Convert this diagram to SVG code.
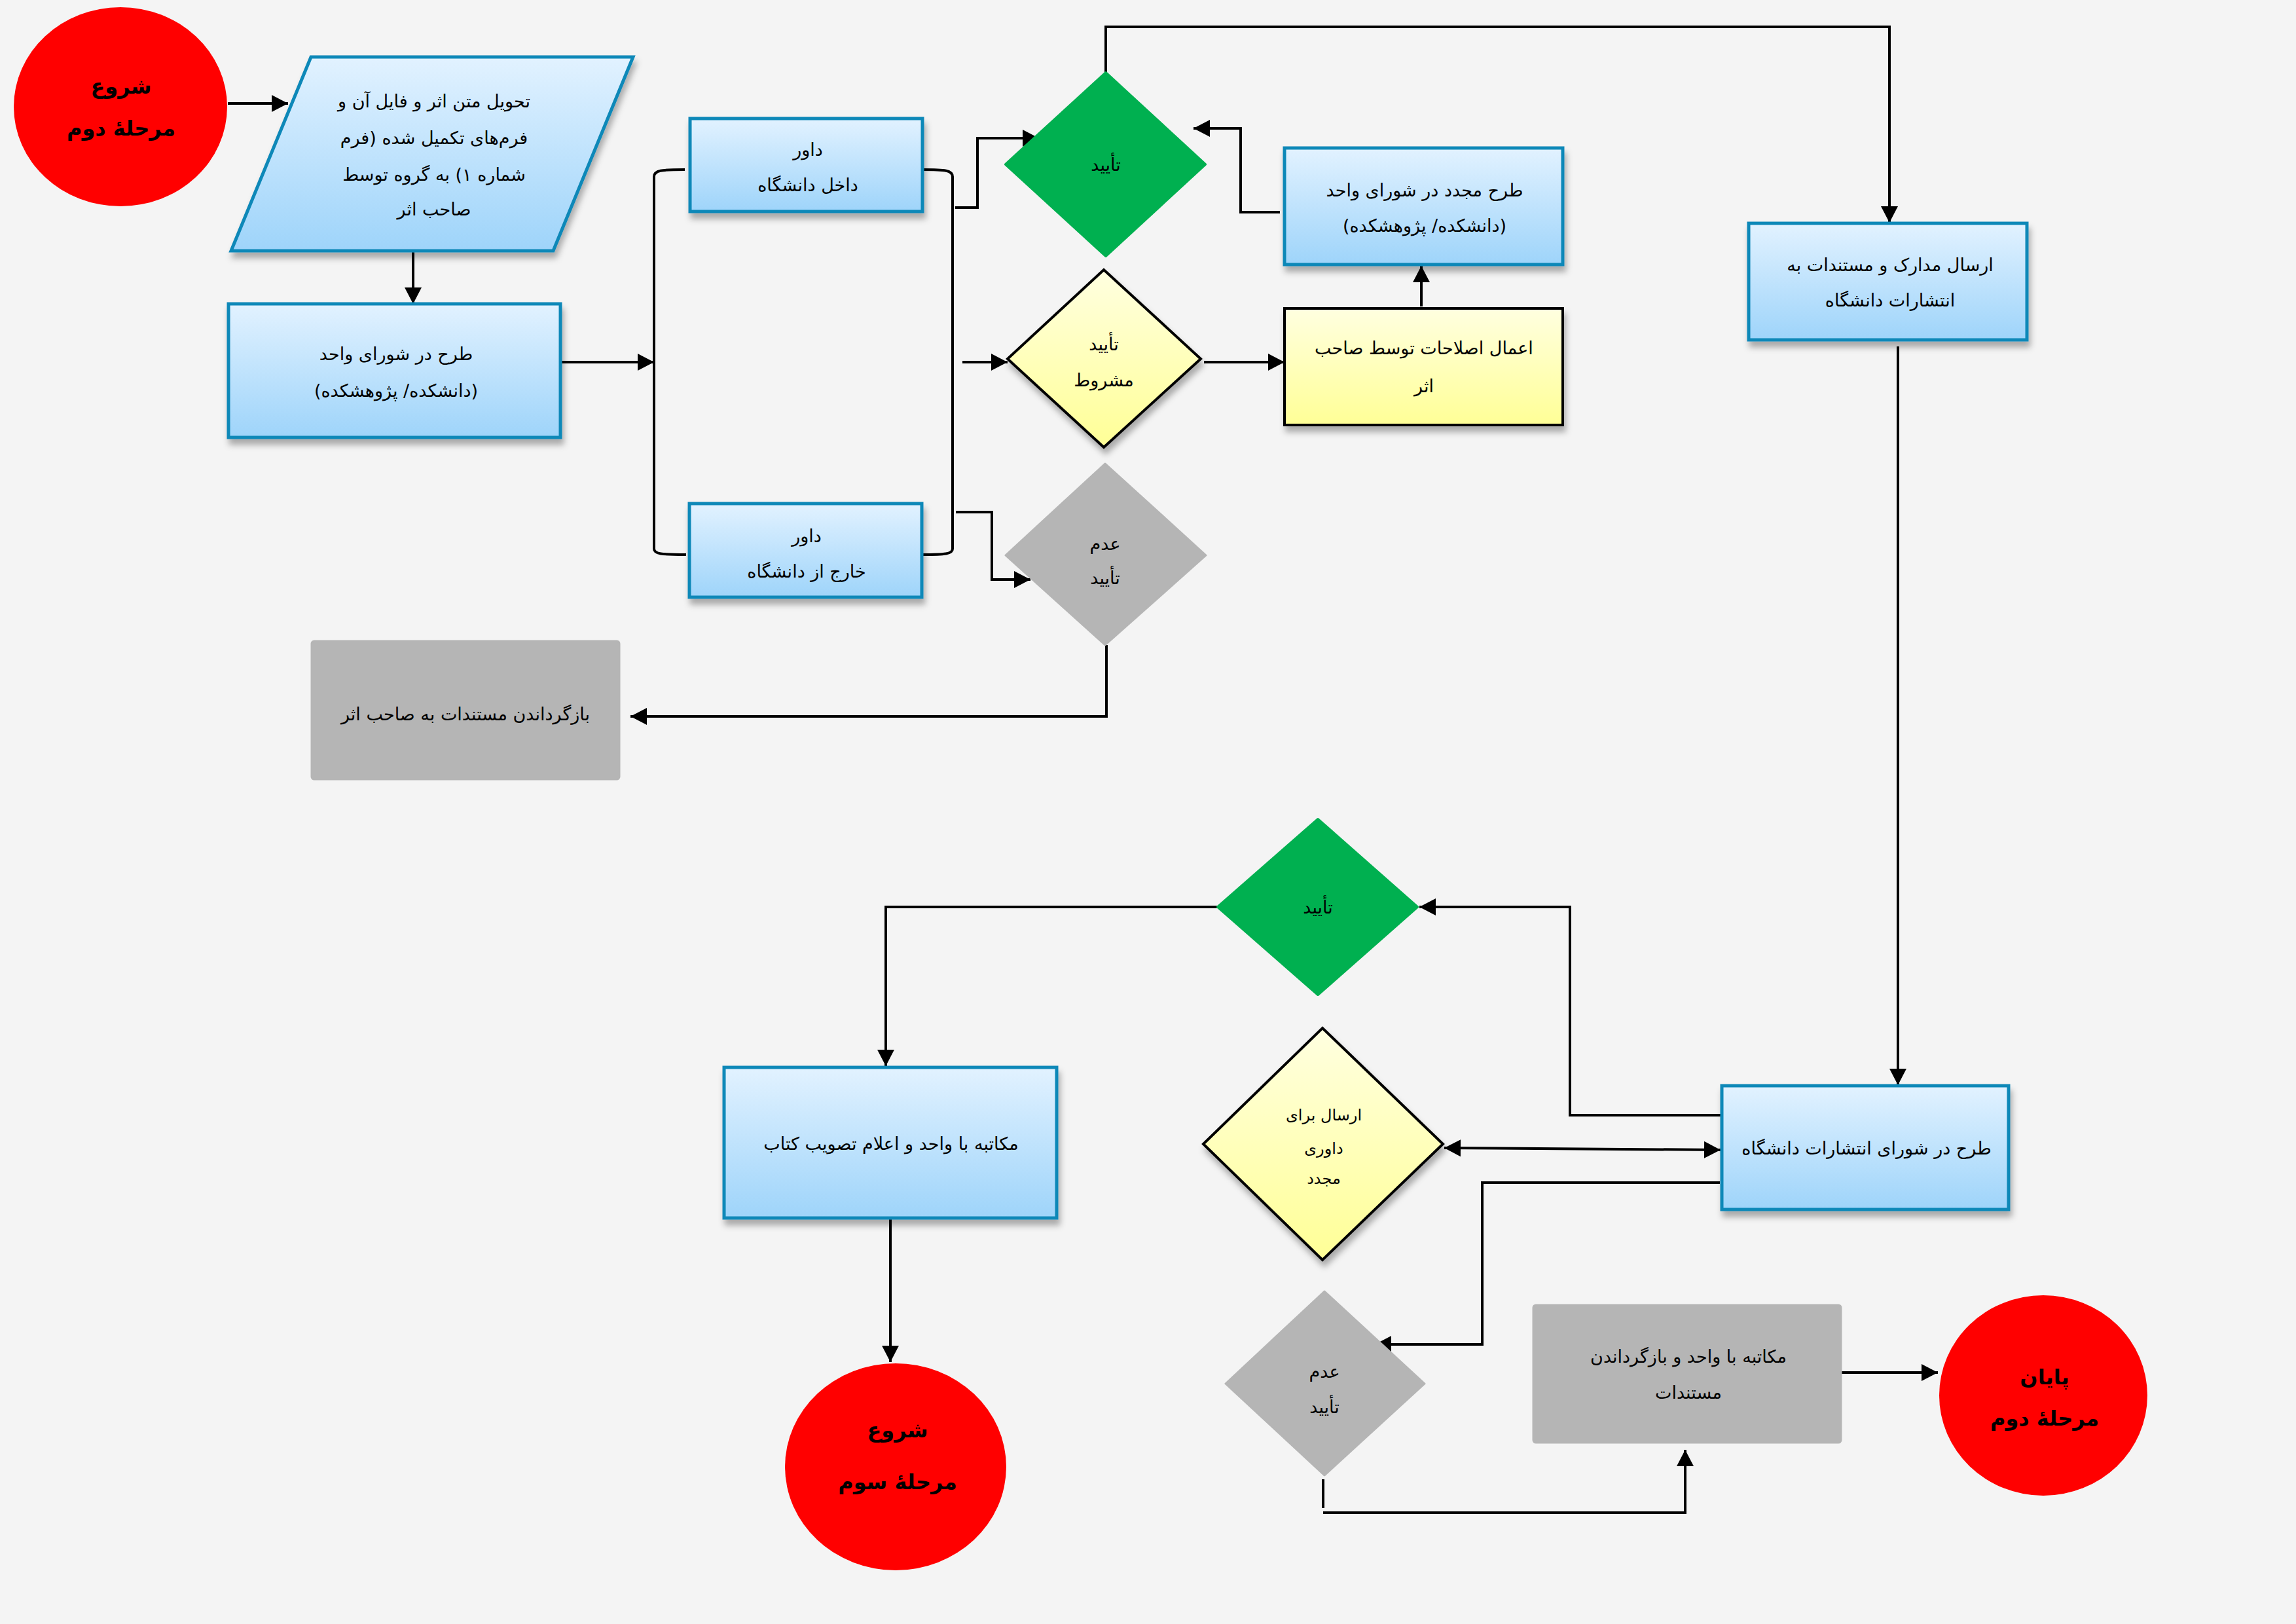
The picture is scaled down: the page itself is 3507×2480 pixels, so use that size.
<svg xmlns="http://www.w3.org/2000/svg" width="3507" height="2480" viewBox="0 0 3507 2480">
<style>
.bg{fill:#f4f4f4}
.blue{fill:url(#gBlue);stroke:#1188b8;stroke-width:5;filter:url(#sh)}
.yel{fill:url(#gYel);stroke:#000;stroke-width:4;filter:url(#sh)}
.green{fill:#00b050;stroke:#00b050;stroke-width:4;stroke-linejoin:round}
.gray{fill:#b5b5b5;stroke:#b5b5b5;stroke-width:3;stroke-linejoin:round}
.red{fill:#ff0000}
.t{font-family:"DejaVu Sans",sans-serif;font-size:27px;fill:#000;text-anchor:middle;dominant-baseline:central;direction:rtl;unicode-bidi:embed}
.ts{font-size:24px}
.tb{font-size:32px;font-weight:bold}
.c{fill:none;stroke:#000;stroke-width:4}
.ca{fill:none;stroke:#000;stroke-width:4;marker-end:url(#ah)}
</style>
<defs>
<linearGradient id="gBlue" x1="0" y1="0" x2="0" y2="1"><stop offset="0" stop-color="#e2f2ff"/><stop offset="1" stop-color="#9ed4fa"/></linearGradient>
<linearGradient id="gYel" x1="0" y1="0" x2="0" y2="1"><stop offset="0" stop-color="#ffffe0"/><stop offset="1" stop-color="#ffff96"/></linearGradient>
<filter id="sh" x="-10%" y="-10%" width="125%" height="130%"><feDropShadow dx="3" dy="9" stdDeviation="5" flood-color="#000" flood-opacity="0.3"/></filter>
<marker id="ah" markerUnits="userSpaceOnUse" markerWidth="28" markerHeight="28" refX="25" refY="13" orient="auto"><path d="M0,0 L25,13 L0,26 z" fill="#000"/></marker>
<marker id="as" markerUnits="userSpaceOnUse" markerWidth="28" markerHeight="28" refX="0" refY="13" orient="auto"><path d="M25,0 L0,13 L25,26 z" fill="#000"/></marker>
</defs>
<rect class="bg" x="0" y="0" width="3507" height="2480"/>

<g id="connectors">
<path class="ca" d="M348,158 H440"/>
<path class="ca" d="M631,383 V464"/>
<path class="ca" d="M856,553 H999"/>
<path class="c" d="M1046,259 C1010,259 999,260 999,270 V838 C999,846 1010,847 1048,847"/>
<path class="c" d="M1408,259 C1444,259 1455,260 1455,270 V838 C1455,846 1444,847 1408,847"/>
<path class="ca" d="M1459,317 H1493 V211 H1587"/>
<path class="ca" d="M1470,553 H1539"/>
<path class="ca" d="M1460,782 H1515 V885 H1574"/>
<path class="ca" d="M1839,553 H1962"/>
<path class="ca" d="M2171,468 V406"/>
<path class="ca" d="M1955,324 H1895 V196 H1823"/>
<path class="ca" d="M1689,111 V41 H2886 V340"/>
<path class="ca" d="M1690,985 V1094 H963"/>
<path class="ca" d="M2899,529 V1657"/>
<path class="ca" d="M2629,1703 H2398 V1385 H2168"/>
<path class="ca" d="M1860,1385 H1353 V1628"/>
<path class="ca" d="M1360,1860 V2080"/>
<path class="ca" style="marker-start:url(#as)" d="M2206,1753 L2628,1756"/>
<path class="ca" d="M2627,1806 H2264 V2053 H2100"/>
<path class="c" d="M2021,2259 V2303"/>
<path class="ca" d="M2021,2310 H2574 V2214"/>
<path class="ca" d="M2812,2096 H2960"/>
</g>

<g id="start2">
<ellipse class="red" cx="184" cy="163" rx="163" ry="152"/>
<text class="t tb" x="185" y="132">شروع</text>
<text class="t tb" x="185" y="196">مرحلهٔ دوم</text>
</g>

<g id="deliver">
<polygon class="blue" points="475,87 967,87 845,383 353,383"/>
<text class="t" x="663" y="154">تحویل متن اثر و فایل آن و</text>
<text class="t" x="663" y="210">فرم‌های تکمیل شده (فرم</text>
<text class="t" x="663" y="266">شماره ۱) به گروه توسط</text>
<text class="t" x="663" y="319">صاحب اثر</text>
</g>

<g id="unitCouncil">
<rect class="blue" x="349" y="464" width="507" height="204"/>
<text class="t" x="605" y="540">طرح در شورای واحد</text>
<text class="t" x="605" y="596">(دانشکده/ پژوهشکده)</text>
</g>

<g id="refIn">
<rect class="blue" x="1054" y="181" width="355" height="142"/>
<text class="t" x="1234" y="228">داور</text>
<text class="t" x="1234" y="282">داخل دانشگاه</text>
</g>

<g id="refOut">
<rect class="blue" x="1053" y="769" width="355" height="143"/>
<text class="t" x="1232" y="818">داور</text>
<text class="t" x="1232" y="872">خارج از دانشگاه</text>
</g>

<g id="approve1">
<polygon class="green" points="1689,111 1841,251 1689,391 1536,251"/>
<text class="t" x="1689" y="251">تأیید</text>
</g>

<g id="condApprove">
<polygon class="yel" points="1686,412 1834,548 1686,683 1539,548"/>
<text class="t" x="1686" y="525">تأیید</text>
<text class="t" x="1686" y="580">مشروط</text>
</g>

<g id="reject1">
<polygon class="gray" points="1688,708 1842,848 1688,985 1536,848"/>
<text class="t" x="1688" y="830">عدم</text>
<text class="t" x="1688" y="882">تأیید</text>
</g>

<g id="reCouncil">
<rect class="blue" x="1962" y="226" width="425" height="178"/>
<text class="t" x="2176" y="290">طرح مجدد در شورای واحد</text>
<text class="t" x="2176" y="344">(دانشکده/ پژوهشکده)</text>
</g>

<g id="corrections">
<rect class="yel" x="1962" y="471" width="425" height="178"/>
<text class="t" x="2175" y="531">اعمال اصلاحات توسط صاحب</text>
<text class="t" x="2175" y="589">اثر</text>
</g>

<g id="sendDocs">
<rect class="blue" x="2671" y="341" width="425" height="178"/>
<text class="t" x="2887" y="404">ارسال مدارک و مستندات به</text>
<text class="t" x="2887" y="458">انتشارات دانشگاه</text>
</g>

<g id="returnDocs">
<rect class="gray" x="476" y="979" width="470" height="211" rx="4"/>
<text class="t" x="711" y="1090">بازگرداندن مستندات به صاحب اثر</text>
</g>

<g id="approve2">
<polygon class="green" points="2013,1251 2165,1385 2013,1519 1860,1385"/>
<text class="t" x="2013" y="1385">تأیید</text>
</g>

<g id="resend">
<polygon class="yel" points="2020,1570 2204,1747 2020,1924 1838,1747"/>
<text class="t ts" x="2022" y="1703">ارسال برای</text>
<text class="t ts" x="2022" y="1754">داوری</text>
<text class="t ts" x="2022" y="1800">مجدد</text>
</g>

<g id="reject2">
<polygon class="gray" points="2023,1972 2176,2113 2023,2253 1872,2113"/>
<text class="t" x="2023" y="2094">عدم</text>
<text class="t" x="2023" y="2148">تأیید</text>
</g>

<g id="pubCouncil">
<rect class="blue" x="2630" y="1658" width="438" height="189"/>
<text class="t" x="2851" y="1753">طرح در شورای انتشارات دانشگاه</text>
</g>

<g id="approveLetter">
<rect class="blue" x="1106" y="1630" width="508" height="230"/>
<text class="t" x="1361" y="1746">مکاتبه با واحد و اعلام تصویب کتاب</text>
</g>

<g id="returnLetter">
<rect class="gray" x="2342" y="1993" width="470" height="210" rx="4"/>
<text class="t" x="2579" y="2071">مکاتبه با واحد و بازگرداندن</text>
<text class="t" x="2579" y="2126">مستندات</text>
</g>

<g id="end2">
<ellipse class="red" cx="3121" cy="2131" rx="159" ry="153"/>
<text class="t tb" x="3123" y="2103">پایان</text>
<text class="t tb" x="3123" y="2166">مرحلهٔ دوم</text>
</g>

<g id="start3">
<ellipse class="red" cx="1368" cy="2240" rx="169" ry="158"/>
<text class="t tb" x="1371" y="2184">شروع</text>
<text class="t tb" x="1371" y="2263">مرحلهٔ سوم</text>
</g>
</svg>
